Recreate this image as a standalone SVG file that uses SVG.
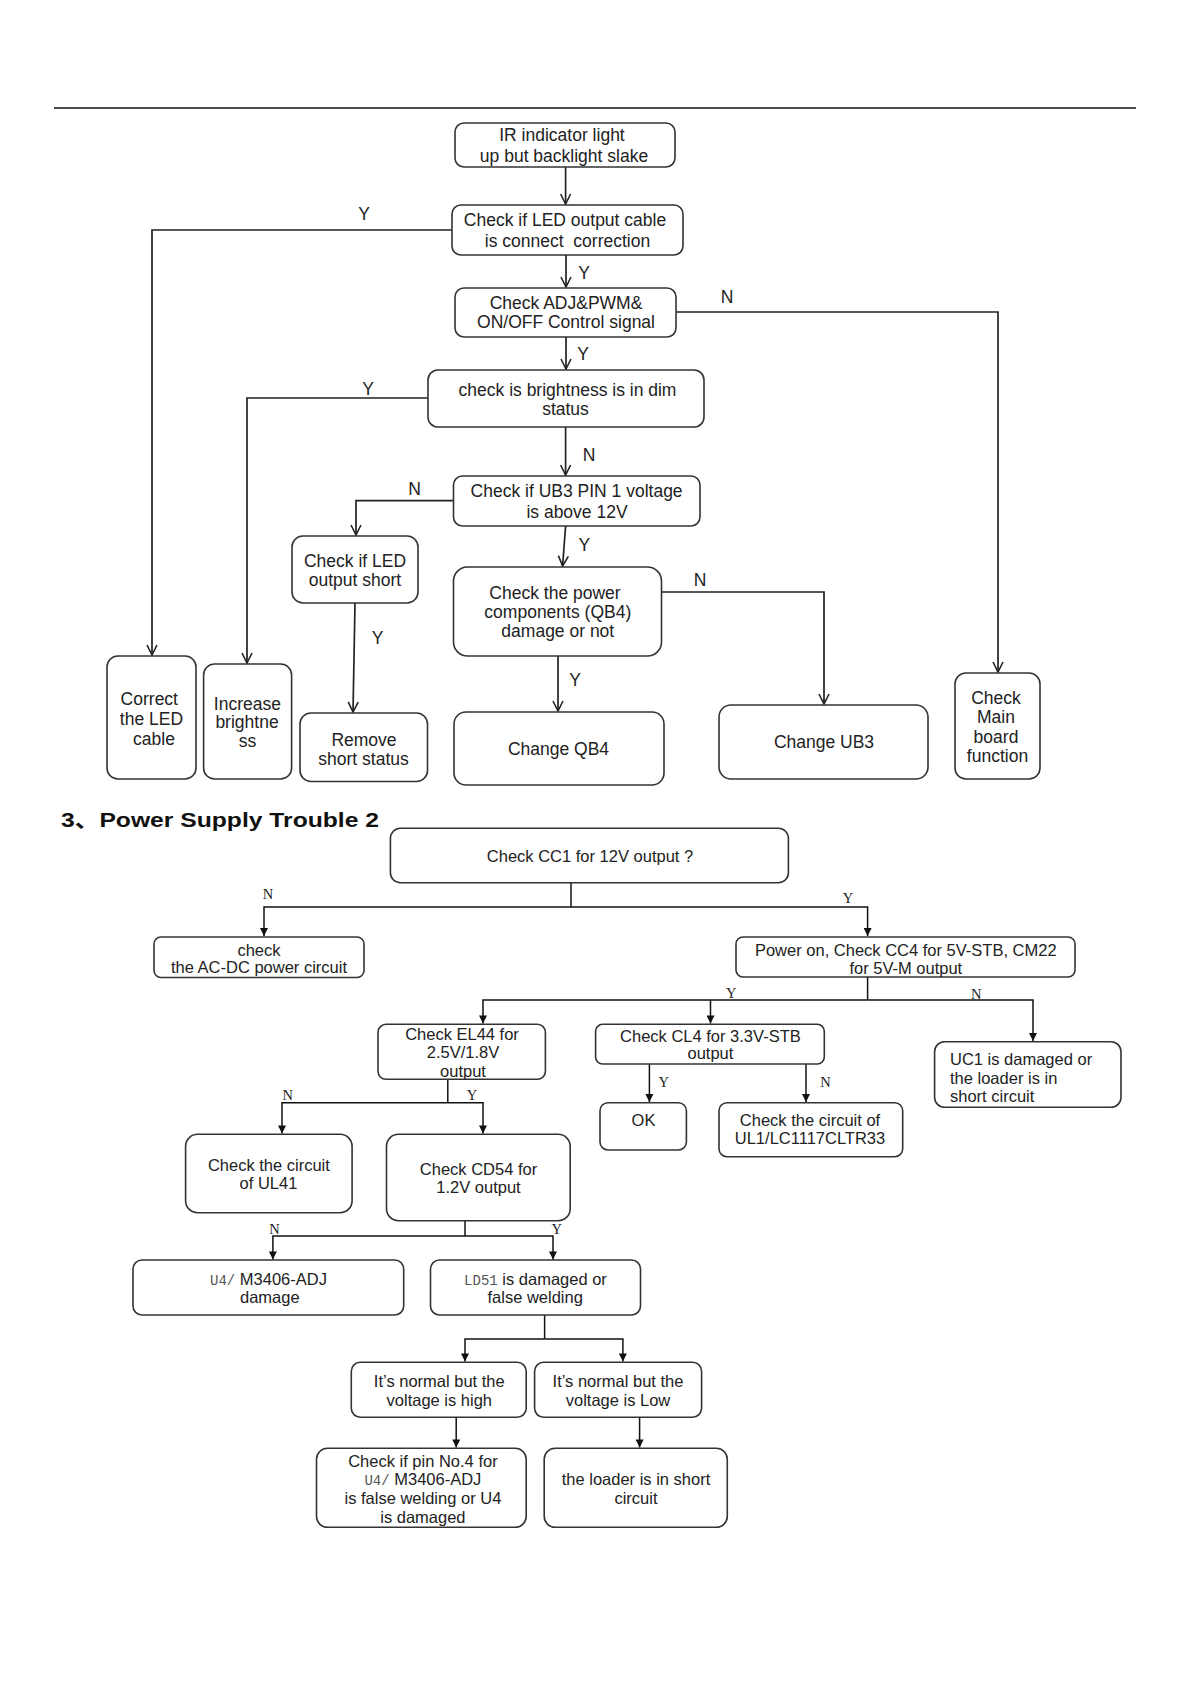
<svg xmlns="http://www.w3.org/2000/svg" width="1191" height="1685" viewBox="0 0 1191 1685">
<defs>
<style>
.bx{fill:#fff;stroke:#333;stroke-width:1.6}
.ln{fill:none;stroke:#222;stroke-width:1.7}
.ln2{fill:none;stroke:#111;stroke-width:1.5}
.t{font-family:"Liberation Sans",Arial,sans-serif;font-size:17.5px;fill:#222;text-anchor:middle}
.b{font-family:"Liberation Sans",Arial,sans-serif;font-size:16.5px;fill:#222;text-anchor:middle}
.bl{font-family:"Liberation Sans",Arial,sans-serif;font-size:16.5px;fill:#222;text-anchor:start}
.lb{font-family:"Liberation Sans",Arial,sans-serif;font-size:17.5px;fill:#222;text-anchor:middle}
.sl{font-family:"Liberation Serif","Times New Roman",serif;font-size:14.5px;fill:#222;text-anchor:middle}
.m{font-family:"Liberation Mono","Courier New",monospace;font-size:14px;fill:#555}
</style>
<marker id="oa" viewBox="0 0 12 12" refX="11" refY="6" markerWidth="12" markerHeight="12" markerUnits="userSpaceOnUse" orient="auto">
<path d="M1,1 L11,6 L1,11" fill="none" stroke="#222" stroke-width="1.6"/>
</marker>
<marker id="sa" viewBox="0 0 10 10" refX="10" refY="5" markerWidth="9" markerHeight="8" markerUnits="userSpaceOnUse" orient="auto">
<path d="M0,0 L10,5 L0,10 z" fill="#111"/>
</marker>
</defs>
<rect width="1191" height="1685" fill="#fff"/>
<line x1="54" y1="108" x2="1136" y2="108" stroke="#111" stroke-width="1.5"/>

<g id="connectors">
<path class="ln" d="M565.6,167 V204" marker-end="url(#oa)"/>
<path class="ln" d="M452,230 H152 V655" marker-end="url(#oa)"/>
<path class="ln" d="M566,255 V287" marker-end="url(#oa)"/>
<path class="ln" d="M676.6,312 H998 V672" marker-end="url(#oa)"/>
<path class="ln" d="M566,337 V369" marker-end="url(#oa)"/>
<path class="ln" d="M428,398 H247 V663" marker-end="url(#oa)"/>
<path class="ln" d="M565.6,427 V475" marker-end="url(#oa)"/>
<path class="ln" d="M453.5,500.7 H356 V535" marker-end="url(#oa)"/>
<path class="ln" d="M355,603 L353,712" marker-end="url(#oa)"/>
<path class="ln" d="M565.6,526 L562.6,566" marker-end="url(#oa)"/>
<path class="ln" d="M661.8,592 H824 V704" marker-end="url(#oa)"/>
<path class="ln" d="M558,656 V711" marker-end="url(#oa)"/>

<path class="ln2" d="M571,883 V907"/>
<path class="ln2" d="M571,907 H264 V936" marker-end="url(#sa)"/>
<path class="ln2" d="M571,907 H867.6 V936" marker-end="url(#sa)"/>
<path class="ln2" d="M867.6,977 V1000"/>
<path class="ln2" d="M867.6,1000 H483 V1023.5" marker-end="url(#sa)"/>
<path class="ln2" d="M710.5,1000 V1023.5" marker-end="url(#sa)"/>
<path class="ln2" d="M867.6,1000 H1033 V1041" marker-end="url(#sa)"/>
<path class="ln2" d="M649.4,1064 V1102" marker-end="url(#sa)"/>
<path class="ln2" d="M806,1064 V1102" marker-end="url(#sa)"/>
<path class="ln2" d="M447.8,1079 V1102.7"/>
<path class="ln2" d="M447.8,1102.7 H282 V1133.5" marker-end="url(#sa)"/>
<path class="ln2" d="M447.8,1102.7 H483 V1133.5" marker-end="url(#sa)"/>
<path class="ln2" d="M465,1220.7 V1236"/>
<path class="ln2" d="M465,1236 H272.9 V1259.5" marker-end="url(#sa)"/>
<path class="ln2" d="M465,1236 H553 V1259.5" marker-end="url(#sa)"/>
<path class="ln2" d="M544.6,1315 V1339"/>
<path class="ln2" d="M544.6,1339 H465 V1361.5" marker-end="url(#sa)"/>
<path class="ln2" d="M544.6,1339 H622.9 V1361.5" marker-end="url(#sa)"/>
<path class="ln2" d="M456.2,1417 V1447.5" marker-end="url(#sa)"/>
<path class="ln2" d="M639.6,1417 V1447.5" marker-end="url(#sa)"/>

<text class="lb" x="364" y="219.5">Y</text>
<text class="lb" x="584" y="279">Y</text>
<text class="lb" x="727" y="303">N</text>
<text class="lb" x="583" y="360">Y</text>
<text class="lb" x="368" y="394.5">Y</text>
<text class="lb" x="589" y="460.5">N</text>
<text class="lb" x="414.5" y="494.5">N</text>
<text class="lb" x="584.4" y="551">Y</text>
<text class="lb" x="377.7" y="643.5">Y</text>
<text class="lb" x="700" y="586">N</text>
<text class="lb" x="575.2" y="685.5">Y</text>

<text class="sl" x="268" y="899">N</text>
<text class="sl" x="848" y="902.5">Y</text>
<text class="sl" x="731.2" y="998">Y</text>
<text class="sl" x="976.3" y="999">N</text>
<text class="sl" x="663.8" y="1087">Y</text>
<text class="sl" x="825.5" y="1087">N</text>
<text class="sl" x="287.8" y="1100">N</text>
<text class="sl" x="471.9" y="1100">Y</text>
<text class="sl" x="274.4" y="1234">N</text>
<text class="sl" x="556.8" y="1234">Y</text>
</g>

<g id="n-ir"><rect class="bx" x="455" y="123" width="220" height="44" rx="9"/>
<text class="t" x="562" y="141">IR indicator light</text><text class="t" x="564" y="161.5">up but backlight slake</text></g>
<g id="n-cable"><rect class="bx" x="452" y="205" width="231" height="50" rx="9"/>
<text class="t" x="565" y="226">Check if LED output cable</text><text class="t" x="567.5" y="246.5">is connect&#160; correction</text></g>
<g id="n-adj"><rect class="bx" x="455" y="288" width="221" height="49" rx="9"/>
<text class="t" x="566" y="308.5">Check ADJ&amp;PWM&amp;</text><text class="t" x="566" y="328">ON/OFF Control signal</text></g>
<g id="n-dim"><rect class="bx" x="428" y="370" width="276" height="57" rx="10"/>
<text class="t" x="567.5" y="396">check is brightness is in dim</text><text class="t" x="565.5" y="414.5">status</text></g>
<g id="n-ub3pin"><rect class="bx" x="453.5" y="476" width="246.5" height="50" rx="9"/>
<text class="t" x="576.6" y="497">Check if UB3 PIN 1 voltage</text><text class="t" x="577" y="517.5">is above 12V</text></g>
<g id="n-short"><rect class="bx" x="292" y="536" width="126" height="67" rx="11"/>
<text class="t" x="355" y="566.5">Check if LED</text><text class="t" x="355" y="586">output short</text></g>
<g id="n-remove"><rect class="bx" x="300" y="713" width="127.5" height="68.5" rx="11"/>
<text class="t" x="364" y="746">Remove</text><text class="t" x="363.5" y="764.5">short status</text></g>
<g id="n-qb4chk"><rect class="bx" x="453.5" y="567" width="208" height="89" rx="14"/>
<text class="t" x="555" y="598.5">Check the power</text><text class="t" x="557.8" y="618">components (QB4)</text><text class="t" x="557.8" y="637">damage or not</text></g>
<g id="n-qb4"><rect class="bx" x="454" y="712" width="210" height="73" rx="12"/>
<text class="t" x="558.5" y="755">Change QB4</text></g>
<g id="n-ub3"><rect class="bx" x="719" y="705" width="209" height="74" rx="12"/>
<text class="t" x="824" y="748">Change UB3</text></g>
<g id="n-main"><rect class="bx" x="955" y="673" width="85" height="106" rx="11"/>
<text class="t" x="996" y="703.5">Check</text><text class="t" x="996" y="722.5">Main</text><text class="t" x="996" y="742.5">board</text><text class="t" x="997.5" y="761.5">function</text></g>
<g id="n-correct"><rect class="bx" x="107" y="656" width="89" height="123" rx="11"/>
<text class="t" x="149.3" y="705">Correct</text><text class="t" x="151.4" y="724.5">the LED</text><text class="t" x="154" y="744.5">cable</text></g>
<g id="n-increase"><rect class="bx" x="203.6" y="664" width="88" height="115" rx="11"/>
<text class="t" x="247.4" y="709.5">Increase</text><text class="t" x="247" y="728">brightne</text><text class="t" x="247.4" y="747">ss</text></g>

<text x="61" y="827" font-family="Liberation Sans,Noto Sans CJK SC,sans-serif" font-size="21" font-weight="bold" fill="#111" textLength="318" lengthAdjust="spacingAndGlyphs">3、Power Supply Trouble 2</text>

<g id="n-cc1"><rect class="bx" x="390.4" y="828.3" width="398" height="54.4" rx="10"/>
<text class="b" x="590" y="862">Check CC1 for 12V output ?</text></g>
<g id="n-acdc"><rect class="bx" x="154" y="937" width="210" height="40.5" rx="7"/>
<text class="b" x="259" y="956">check</text><text class="b" x="259" y="973.3">the AC-DC power circuit</text></g>
<g id="n-poweron"><rect class="bx" x="736" y="937" width="339" height="40" rx="7"/>
<text class="b" x="905.8" y="956">Power on, Check CC4 for 5V-STB, CM22</text><text class="b" x="905.8" y="973.5">for 5V-M output</text></g>
<g id="n-el44"><rect class="bx" x="378" y="1024.3" width="167.4" height="55" rx="8"/>
<text class="b" x="462" y="1040">Check EL44 for</text><text class="b" x="463" y="1058">2.5V/1.8V</text><text class="b" x="463" y="1076.5">output</text></g>
<g id="n-cl4"><rect class="bx" x="595.6" y="1024.3" width="228.7" height="39.7" rx="7"/>
<text class="b" x="710.4" y="1041.5">Check CL4 for 3.3V-STB</text><text class="b" x="710.4" y="1059">output</text></g>
<g id="n-uc1"><rect class="bx" x="934.6" y="1041.7" width="186.4" height="65.6" rx="10"/>
<text class="bl" x="950" y="1064.8">UC1 is damaged or</text><text class="bl" x="950" y="1083.5">the loader is in</text><text class="bl" x="950" y="1101.5">short circuit</text></g>
<g id="n-ok"><rect class="bx" x="600" y="1102.7" width="86.4" height="47.3" rx="8"/>
<text class="b" x="643.5" y="1125.8">OK</text></g>
<g id="n-ul1"><rect class="bx" x="719" y="1102.7" width="183.7" height="54" rx="8"/>
<text class="b" x="810" y="1125.8">Check the circuit of</text><text class="b" x="810" y="1144">UL1/LC1117CLTR33</text></g>
<g id="n-ul41"><rect class="bx" x="185.6" y="1134.3" width="166.5" height="78.4" rx="12"/>
<text class="b" x="268.9" y="1170.8">Check the circuit</text><text class="b" x="268.5" y="1189">of UL41</text></g>
<g id="n-cd54"><rect class="bx" x="386.5" y="1134.3" width="183.7" height="86.4" rx="12"/>
<text class="b" x="478.5" y="1174.8">Check CD54 for</text><text class="b" x="478.5" y="1192.5">1.2V output</text></g>
<g id="n-u4dmg"><rect class="bx" x="133" y="1260" width="270.7" height="55" rx="9"/>
<text class="b" x="268.5" y="1285"><tspan class="m">U4/</tspan> M3406-ADJ</text><text class="b" x="269.8" y="1303">damage</text></g>
<g id="n-ld51"><rect class="bx" x="430.5" y="1260" width="210" height="55" rx="9"/>
<text class="b" x="535.5" y="1285"><tspan class="m">LD51</tspan> is damaged or</text><text class="b" x="535.2" y="1303">false welding</text></g>
<g id="n-high"><rect class="bx" x="351.3" y="1362.3" width="174.9" height="55" rx="9"/>
<text class="b" x="439.3" y="1386.5">It’s normal but the</text><text class="b" x="439.3" y="1405.8">voltage is high</text></g>
<g id="n-low"><rect class="bx" x="534.6" y="1362.3" width="167" height="55" rx="9"/>
<text class="b" x="618" y="1386.5">It’s normal but the</text><text class="b" x="618" y="1405.8">voltage is Low</text></g>
<g id="n-pin4"><rect class="bx" x="316.5" y="1448.3" width="209.7" height="79" rx="11"/>
<text class="b" x="422.9" y="1466.8">Check if pin No.4 for</text><text class="b" x="422.9" y="1485"><tspan class="m">U4/</tspan> M3406-ADJ</text><text class="b" x="422.9" y="1503.5">is false welding or U4</text><text class="b" x="422.9" y="1522.5">is damaged</text></g>
<g id="n-loader"><rect class="bx" x="544.2" y="1448.3" width="183.1" height="79" rx="11"/>
<text class="b" x="636" y="1485">the loader is in short</text><text class="b" x="636" y="1503.5">circuit</text></g>
</svg>
